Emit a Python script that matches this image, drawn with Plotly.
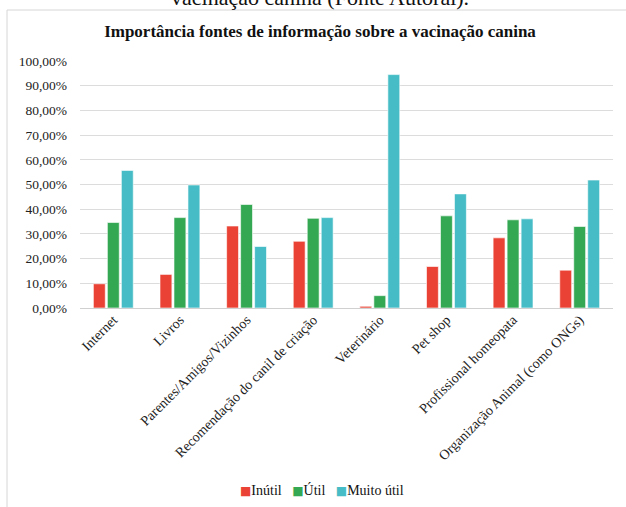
import plotly.graph_objects as go

categories = ["Internet", "Livros", "Parentes/Amigos/Vizinhos", "Recomendação do canil de criação",
              "Veterinário", "Pet shop", "Profissional homeopata", "Organização Animal (como ONGs)"]
inutil = [0.098, 0.136, 0.332, 0.270, 0.007, 0.168, 0.284, 0.153]
util = [0.346, 0.366, 0.419, 0.363, 0.050, 0.373, 0.357, 0.330]
muito_util = [0.557, 0.498, 0.249, 0.366, 0.945, 0.462, 0.361, 0.518]

series_names = ["Inútil", "Útil", "Muito útil"]
colors = ["#EA4335", "#34A853", "#46BDC6"]

W, H = 626, 507
L, R, T, B = 80, 13, 61, 199
pw, ph = W - L - R, H - T - B

def px_x(x):
    return (x - L) / pw

def px_y(y):
    return (H - B - y) / ph

FONT = "Liberation Serif, Times New Roman, serif"

fig = go.Figure()
for name, vals, c in zip(series_names, [inutil, util, muito_util], colors):
    fig.add_trace(go.Bar(x=categories, y=vals, name=name, showlegend=False,
                         marker=dict(color=c, line=dict(color="rgba(255,255,255,0.6)", width=1))))

legend_text = "&nbsp;&nbsp;&nbsp;".join(
    f"<span style='color:{c};font-size:12px;font-family:DejaVu Sans'>■</span>{n}"
    for n, c in zip(series_names, colors))

fig.update_layout(
    width=W, height=H,
    margin=dict(l=L, r=R, t=T, b=B, autoexpand=False),
    paper_bgcolor="white", plot_bgcolor="white",
    separators=",.",
    barmode="group", bargap=0.37, bargroupgap=0.15,
    font=dict(family=FONT, color="#222", size=13),
    title=dict(text="<b>Importância fontes de informação sobre a vacinação canina</b>",
               x=320 / W, xref="container", xanchor="center",
               y=1 - 31 / H, yref="container", yanchor="middle",
               font=dict(family=FONT, size=17, color="#111")),
    showlegend=False,
    xaxis=dict(tickangle=-45, showgrid=False, showline=False, ticks="", automargin=False,
               tickfont=dict(family=FONT, size=14, color="#222")),
    yaxis=dict(range=[0, 1.0], dtick=0.1, tickformat=".2%", showgrid=True, automargin=False,
               gridcolor="#dcdcdc", gridwidth=1, zeroline=True, zerolinecolor="#d0d0d0",
               zerolinewidth=1, showline=False, ticks="", ticklabelstandoff=12,
               tickfont=dict(family=FONT, size=13.5, color="#222")),
    shapes=[
        dict(type="line", xref="paper", yref="paper", x0=px_x(7), x1=px_x(W + 5), y0=px_y(10), y1=px_y(10),
             line=dict(color="#d6d6d6", width=1)),
        dict(type="line", xref="paper", yref="paper", x0=px_x(7), x1=px_x(7), y0=px_y(10), y1=px_y(H + 5),
             line=dict(color="#d6d6d6", width=1)),
    ],
    annotations=[
        dict(text="vacinação canina (Fonte Autoral).", xref="paper", yref="paper",
             x=px_x(320), y=px_y(12), xanchor="center", yanchor="bottom", showarrow=False,
             font=dict(family=FONT, size=22, color="#111")),
        dict(text=legend_text, xref="paper", yref="paper",
             x=px_x(322), y=px_y(490), xanchor="center", yanchor="middle", showarrow=False,
             font=dict(family=FONT, size=14, color="#111")),
    ],
)

fig.write_html("out.html")
